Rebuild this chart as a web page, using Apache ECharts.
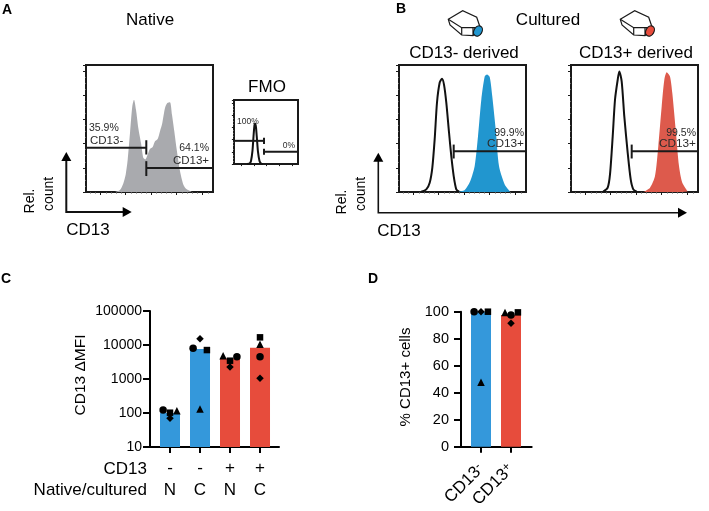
<!DOCTYPE html>
<html><head><meta charset="utf-8">
<style>html,body{margin:0;padding:0;background:#fff}#c{width:709px;height:511px}</style>
<script src="https://cdn.jsdelivr.net/npm/echarts@6/dist/echarts.min.js"></script>
</head><body><div id="c"></div>
<script>
// Histograms: [position across frame, % of max]
const nativeHist=[[29,0],[34,1.6],[37.3,7.1],[39.7,14.5],[41.7,26.9],[44,48.8],[46.3,70.8],[48,76.3],[50,68],[52.3,53],[55,40.6],[57.3,28.3],[59.3,26.9],[61.7,31],[64,35.7],[66.7,37.3],[69,42],[71.7,43.9],[74,50.2],[76.3,57],[79,69.4],[81.3,73.5],[84,74.3],[86,63.9],[88.3,50.2],[90.7,35.1],[94,17.3],[97.3,6.3],[100.7,2.2],[105.7,0.3]];
const fmoHist=[[13,0],[15.5,0.5],[17,5],[18.5,22],[19.5,45],[20.5,64],[21.3,66],[22,60],[23,40],[24,20],[25.5,5],[27,1],[29,0]];
const ctrlMinus=[[22.3,0.3],[27.3,2.2],[30.7,7.7],[33.3,20],[35.7,43.9],[38,74],[40.7,90.5],[43,93.6],[45,88.8],[47.3,73.9],[50,49.4],[52.3,29.6],[54.7,13.2],[57.3,2.2],[60,0.3]];
const cd13Minus=[[59,0],[65.7,1.6],[71.3,9],[75.7,21.4],[79,46],[82.3,76.3],[85.7,95.5],[88,97.1],[90.7,95],[93.3,79],[96.7,51.9],[100,21.4],[105.7,6.3],[111.3,0.3]];
const ctrlPlus=[[32.3,0.3],[36.7,3.6],[39,14.5],[41.7,46],[44,76.3],[46.7,92.8],[48.3,99.6],[50.7,91.3],[53.3,62.5],[56.7,32.4],[59.7,10.4],[62.3,2.2],[65.7,0.3]];
const cd13Plus=[[72.3,0],[79,3.6],[84,13.2],[87.3,37.9],[90.7,70.8],[93.3,92.7],[95.7,99],[99,95.5],[101.3,81.8],[104.7,51.6],[108,21.4],[111.3,7.7],[116.7,0.5]];
// Gates: [x1, x2, y, tickX, tickLow, tickHigh]
const gatesNative=[[0,60.3,36.5,60.3,31,42.8],[60.3,127,19.8,60.3,13.2,25.5]];
const gatesFmo=[[0,30,38,30,33,43],[30,64,20,30,15,25]];
const gatesMinus=[[54.7,127,33.7,54.7,27.7,39.2]];
const gatesPlus=[[60.7,127,33.7,60.7,27.7,39.2]];
// Panel C
const cCd13Row=['-','-','+','+'];
const cTypeRow=['N','C','N','C'];
const cBars=[[0,100],[1,7600],[2,4000],[3,8300]];
const cCircle=[[-0.23,122],[0.77,8000],[2.23,4530],[3,4530]];
const cSquare=[[0,102],[1.23,7100],[2,3450],[3,16800]];
const cTriangle=[[0.23,117],[1,131],[1.77,4850],[3,10500]];
const cDiamond=[[0,70],[1,15300],[2,2250],[3,1050]];
// Panel D
const dBars=[[0,100],[1,97.5]];
const dCircle=[[-0.23,100],[1,97.5]];
const dSquare=[[0.23,100],[1.23,99.5]];
const dTriangle=[[0,47.7],[0.8,99.5]];
const dDiamond=[[0,100],[1,91.4]];
const dLabels=['CD13{s|-}','CD13{s|+}'];
const BLUE='#3498db',RED='#e74c3c',HBLUE='#2196cf',HRED='#dd5a4c',GREY='#a9aaae',INK='#1a1a1a';
const FF='"Liberation Sans",Arial,sans-serif';

const grids=[],xAxes=[],yAxes=[],series=[];
function histPanel(left,top,size,xMax,majors,minors,tickScale){
  const g=grids.length;
  grids.push({left,top,width:size,height:size,show:true,borderColor:INK,borderWidth:2,backgroundColor:'transparent'});
  xAxes.push({gridIndex:g,type:'value',position:'bottom',min:0,max:xMax,axisLine:{show:false},splitLine:{show:false},axisLabel:{show:false},
    axisTick:{show:true,customValues:majors,length:3*tickScale,lineStyle:{color:INK,width:1}}});
  const mi=xAxes.length;
  xAxes.push({gridIndex:g,type:'value',position:'bottom',min:0,max:xMax,axisLine:{show:false},splitLine:{show:false},axisLabel:{show:false},
    axisTick:{show:minors.length>0,customValues:minors,length:1.5,lineStyle:{color:'#555',width:1}}});
  const yi=yAxes.length;
  yAxes.push({gridIndex:g,type:'value',min:0,max:105,interval:20,axisLine:{show:false},splitLine:{show:false},axisLabel:{show:false},
    axisTick:{show:true,length:3*tickScale,lineStyle:{color:INK,width:1}},minorTick:{show:true,splitNumber:4,length:1,lineStyle:{color:'#666',width:1}}});
  return {x:mi-1,y:yi};
}
function addHist(p,data,color,filled){
  series.push({type:'line',xAxisIndex:p.x,yAxisIndex:p.y,data,smooth:0.25,showSymbol:false,silent:true,clip:true,
    lineStyle:filled?{width:0}:{color:'#111',width:2},
    areaStyle:filled?{color,opacity:1}:undefined,z:filled?3:4});
}
function addGates(p,gates){
  gates.forEach(([x1,x2,y,tx,lo,hi])=>{
    const base={type:'line',xAxisIndex:p.x,yAxisIndex:p.y,showSymbol:false,silent:true,lineStyle:{color:'#1a1a1a',width:2},z:6};
    series.push({...base,data:[[x1,y],[x2,y]]});
    series.push({...base,data:[[tx,lo],[tx,hi]]});
  });
}
const mj=[14.7,39.7,65,90.7,116.7];
const mn=[4,9,20,25,30,35,45,50,55,60,70,75,80,85,96,101,106,111,122];
const pA=histPanel(86,65,127,127,mj,mn,1);
const pF=histPanel(234,100,64,64,[7.3,20,32.7,45.5,58.3],[],0.7);
const pB1=histPanel(399,65,127,127,mj,mn,1);
const pB2=histPanel(571,65,127,127,mj,mn,1);
addHist(pA,nativeHist,GREY,true);addGates(pA,gatesNative);
addHist(pF,fmoHist,'#000',false);addGates(pF,gatesFmo);
addHist(pB1,cd13Minus,HBLUE,true);addHist(pB1,ctrlMinus,'#000',false);addGates(pB1,gatesMinus);
addHist(pB2,cd13Plus,HRED,true);addHist(pB2,ctrlPlus,'#000',false);addGates(pB2,gatesPlus);

function scatters(xi,yi,sets){
  [['circle',sets[0],7.5],['rect',sets[1],6.5],['triangle',sets[2],7.5],['diamond',sets[3],7.5]].forEach(([symbol,data,s])=>{
    series.push({type:'scatter',xAxisIndex:xi,yAxisIndex:yi,data,symbol,symbolSize:s,itemStyle:{color:'#000',opacity:1},z:8,silent:true,clip:false});
  });
}
function barAxisCommon(){return {axisLine:{show:true,onZero:false,lineStyle:{color:'#000',width:2}},axisTick:{show:true,length:7,lineStyle:{color:'#000',width:2}},splitLine:{show:false}};}
// C
{
 const g=grids.length;
 grids.push({left:150,top:311,width:129,height:136});
 const xi=xAxes.length,yi=yAxes.length;
 xAxes.push({gridIndex:g,type:'value',min:-0.6667,max:3.633,...barAxisCommon(),
   axisTick:{show:true,length:6,customValues:[0,1,2,3],lineStyle:{color:'#000',width:2}},
   axisLabel:{show:true,customValues:[0,1,2,3],margin:10,color:'#000',fontFamily:FF,fontSize:17,lineHeight:22,align:'center',showMinLabel:true,showMaxLabel:true,
     formatter:v=>cCd13Row[v]+'\n'+cTypeRow[v]}});
 yAxes.push({gridIndex:g,type:'log',logBase:10,min:10,max:100000,...barAxisCommon(),minorTick:{show:false},
   axisLabel:{color:'#000',fontFamily:FF,fontSize:14,margin:8,formatter:v=>String(v)}});
 series.push({type:'bar',xAxisIndex:xi,yAxisIndex:yi,barWidth:20,z:2,silent:true,
   data:cBars.map((d,i)=>({value:d,itemStyle:{color:i<2?BLUE:RED}}))});
 scatters(xi,yi,[cCircle,cSquare,cTriangle,cDiamond]);
}
// D
{
 const g=grids.length;
 grids.push({left:461,top:311.7,width:70.7,height:135});
 const xi=xAxes.length,yi=yAxes.length;
 xAxes.push({gridIndex:g,type:'value',min:-0.6667,max:1.69,...barAxisCommon(),
   axisTick:{show:true,length:6,customValues:[0,1],lineStyle:{color:'#000',width:2}},
   axisLabel:{show:true,customValues:[0,1],rotate:45,margin:20,color:'#000',fontFamily:FF,fontSize:17,
     formatter:v=>dLabels[v],rich:{s:{fontSize:12,verticalAlign:'top',fontFamily:FF,color:'#000',padding:[0,0,6,0]}}}});
 yAxes.push({gridIndex:g,type:'value',min:0,max:100,interval:20,...barAxisCommon(),
   axisLabel:{color:'#000',fontFamily:FF,fontSize:14.5,margin:12}});
 series.push({type:'bar',xAxisIndex:xi,yAxisIndex:yi,barWidth:20,z:2,silent:true,
   data:dBars.map((d,i)=>({value:d,itemStyle:{color:i<1?BLUE:RED}}))});
 scatters(xi,yi,[dCircle,dSquare,dTriangle,dDiamond]);
}

function T(text,x,y,size,o={}){
  return {type:'text',x,y,rotation:o.rot||0,z:20,silent:true,style:{text,fill:o.fill||'#000',font:(o.bold?'bold ':'')+size+'px '+FF,textAlign:o.align||'center',textVerticalAlign:'middle'}};
}
const R=Math.PI/2,SM='#2b2b2b';
const texts=[
 T('A',7,10,14,{bold:1}),T('B',396,9,14,{bold:1,align:'left'}),T('C',6,279,14,{bold:1}),T('D',373,279,14,{bold:1}),
 T('Native',150,20,17),T('FMO',267,87,17),T('Cultured',548,20,17),
 T('CD13- derived',464,53,17),T('CD13+ derived',636,53,17),
 T('Rel.',30,201,14,{rot:R}),T('count',49,194,14,{rot:R}),T('CD13',88,230,17),
 T('Rel.',342,202,14,{rot:R}),T('count',361,194,14,{rot:R}),T('CD13',399,231,17),
 T('35.9%',89,128,10.5,{align:'left',fill:SM}),T('CD13-',90,141,11.5,{align:'left',fill:SM}),
 T('64.1%',209,148,10.5,{align:'right',fill:SM}),T('CD13+',209,161,11.5,{align:'right',fill:SM}),
 T('100%',237,122,8.5,{align:'left',fill:SM}),T('0%',295,146,8.5,{align:'right',fill:SM}),
 T('99.9%',524,133,10.5,{align:'right',fill:SM}),T('CD13+',524,144,11.8,{align:'right',fill:SM}),
 T('99.5%',696,133,10.5,{align:'right',fill:SM}),T('CD13+',696,144,11.8,{align:'right',fill:SM}),
 T('CD13 ΔMFI',81,375,15.5,{rot:R}),
 T('CD13',147,469,17,{align:'right'}),T('Native/cultured',147,490,17,{align:'right'}),
 T('% CD13+ cells',406,377,15,{rot:R})
];
function arrow(x0,yTop,yAxis,xEnd,head,lw){
  const s={stroke:'#111',lineWidth:lw,fill:'none'};
  return [
   {type:'polyline',z:20,silent:true,shape:{points:[[x0,yTop+6],[x0,yAxis],[xEnd-6,yAxis]]},style:s},
   {type:'polygon',z:20,silent:true,shape:{points:[[x0,yTop],[x0-head/2,yTop+9],[x0+head/2,yTop+9]]},style:{fill:'#000'}},
   {type:'polygon',z:20,silent:true,shape:{points:[[xEnd,yAxis],[xEnd-9,yAxis-head/2],[xEnd-9,yAxis+head/2]]},style:{fill:'#000'}}
  ];
}
function icon(px,py,color){
  const s={stroke:'#1a1a1a',lineWidth:1.2,fill:'none'};
  const line=p=>({type:'polyline',shape:{points:p},style:s});
  return {type:'group',x:px,y:py,z:20,silent:true,children:[
    {type:'polygon',shape:{points:[[8.3,14.3],[22.7,5.7],[36.7,12.3],[40,22],[33,30.7],[21.7,30],[10,20]]},style:{fill:'#fff',stroke:'#1a1a1a',lineWidth:1.2}},
    line([[8.3,14.3],[21.7,22.7],[35,22.7]]),line([[21.7,22.7],[21.7,30]]),line([[33,22.7],[33,30.7]]),
    {type:'ellipse',x:38,y:26,rotation:-0.5,shape:{cx:0,cy:0,rx:4,ry:5.5},style:{fill:color,stroke:'#111',lineWidth:1.2}}
  ]};
}
const graphic=[...texts,...arrow(66.3,152,212,131.7,10,2),...arrow(378.3,152.7,212.7,687,10,1.6),icon(440,5,HBLUE),icon(612,5,RED)];

echarts.init(document.getElementById('c'),null,{renderer:'canvas'}).setOption({
  animation:false,backgroundColor:'#fff',textStyle:{fontFamily:FF},
  grid:grids,xAxis:xAxes,yAxis:yAxes,series,graphic
});
</script></body></html>
